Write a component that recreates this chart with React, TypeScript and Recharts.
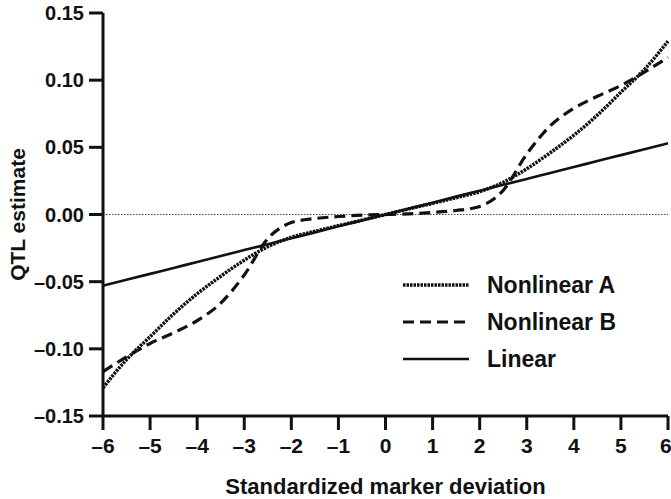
import React from 'react';
import { LineChart, Line, XAxis, YAxis, ReferenceLine } from 'recharts';

// standardized marker deviation (x)
const deviation = [-6, -5.5, -5, -4.5, -4, -3.5, -3, -2.5, -2, -1.5, -1, -0.5, 0, 0.5, 1, 1.5, 2, 2.5, 3, 3.5, 4, 4.5, 5, 5.5, 6];

// QTL estimates
const nonlinearA = [-0.129, -0.108, -0.091, -0.074, -0.059, -0.046, -0.034, -0.024, -0.017, -0.0125, -0.0083, -0.0042, 0, 0.0042, 0.0083, 0.0125, 0.017, 0.024, 0.034, 0.046, 0.059, 0.074, 0.091, 0.108, 0.129];
const nonlinearB = [-0.117, -0.106, -0.096, -0.088, -0.079, -0.066, -0.045, -0.018, -0.006, -0.003, -0.0015, -0.0005, 0, 0.0005, 0.0015, 0.003, 0.006, 0.018, 0.045, 0.066, 0.079, 0.088, 0.096, 0.106, 0.117];
const linear = [-0.053, -0.0486, -0.0442, -0.0398, -0.0353, -0.0309, -0.0265, -0.0221, -0.0177, -0.0133, -0.0088, -0.0044, 0, 0.0044, 0.0088, 0.0133, 0.0177, 0.0221, 0.0265, 0.0309, 0.0353, 0.0398, 0.0442, 0.0486, 0.053];

const xTicks = [-6, -5, -4, -3, -2, -1, 0, 1, 2, 3, 4, 5, 6];
const yTicks = [-0.15, -0.1, -0.05, 0, 0.05, 0.1, 0.15];

const series = [
  { key: 'A', name: 'Nonlinear A', dash: '2.5 1', width: 3.5 },
  { key: 'B', name: 'Nonlinear B', dash: '11 6', width: 3.2 },
  { key: 'L', name: 'Linear', dash: undefined, width: 2.6 },
];

const data = deviation.map((x, i) => ({ x, A: nonlinearA[i], B: nonlinearB[i], L: linear[i] }));

const FONT = '"Liberation Sans", Arial, sans-serif';
const INK = '#111';

const minus = (s: string) => s.replace('-', '\u2013');

// legend drawn as an overlay so it does not take space from the plot
const LegendBox = () => (
  <svg width={280} height={120} style={{ position: 'absolute', left: 403, top: 266 }}>
    {series.map((s, i) => (
      <g key={s.key} transform={`translate(0, ${19 + i * 37})`}>
        <line x1={0} x2={66} y1={0} y2={0} stroke={INK} strokeWidth={s.width} strokeDasharray={s.dash} />
        <text x={84} y={0} dy="0.36em" fontFamily={FONT} fontSize={23} fontWeight="bold" fill={INK}>
          {s.name}
        </text>
      </g>
    ))}
  </svg>
);

export default function App() {
  return (
    <div style={{ position: 'absolute', left: 0, top: 0, width: 671, height: 499, background: '#fff' }}>
      <LineChart width={671} height={499} data={data} margin={{ top: 13, right: 3, bottom: 0, left: 0 }}>
        <XAxis
          dataKey="x"
          type="number"
          domain={[-6, 6]}
          ticks={xTicks}
          tickFormatter={(v: number) => minus(String(v))}
          height={83}
          tickSize={14}
          tickMargin={8}
          axisLine={{ stroke: INK, strokeWidth: 3 }}
          tickLine={{ stroke: INK, strokeWidth: 3 }}
          tick={{ fill: INK, fontSize: 21, fontWeight: 'bold', fontFamily: FONT }}
          label={{ value: 'Standardized marker deviation', position: 'insideBottom', offset: 5, fill: INK, fontSize: 22, fontWeight: 'bold', fontFamily: FONT }}
        />
        <YAxis
          type="number"
          domain={[-0.15, 0.15]}
          ticks={yTicks}
          tickFormatter={(v: number) => minus(v.toFixed(2))}
          width={103}
          tickSize={14}
          tickMargin={5}
          axisLine={{ stroke: INK, strokeWidth: 3 }}
          tickLine={{ stroke: INK, strokeWidth: 3 }}
          tick={{ fill: INK, fontSize: 20, fontWeight: 'bold', fontFamily: FONT }}
          label={({ viewBox }: any) => (
            <text
              x={viewBox.x + 17}
              y={viewBox.y + viewBox.height / 2}
              transform={`rotate(-90, ${viewBox.x + 17}, ${viewBox.y + viewBox.height / 2})`}
              textAnchor="middle"
              dominantBaseline="central"
              fontFamily={FONT}
              fontSize={21}
              fontWeight="bold"
              fill={INK}
            >
              QTL estimate
            </text>
          )}
        />
        <ReferenceLine y={0} stroke="#444" strokeWidth={1.2} strokeDasharray="1.5 1.5" />
        {series.map((s) => (
          <Line
            key={s.key}
            dataKey={s.key}
            name={s.name}
            type="monotone"
            stroke={INK}
            strokeWidth={s.width}
            strokeDasharray={s.dash}
            dot={false}
            isAnimationActive={false}
          />
        ))}
      </LineChart>
      <LegendBox />
    </div>
  );
}
